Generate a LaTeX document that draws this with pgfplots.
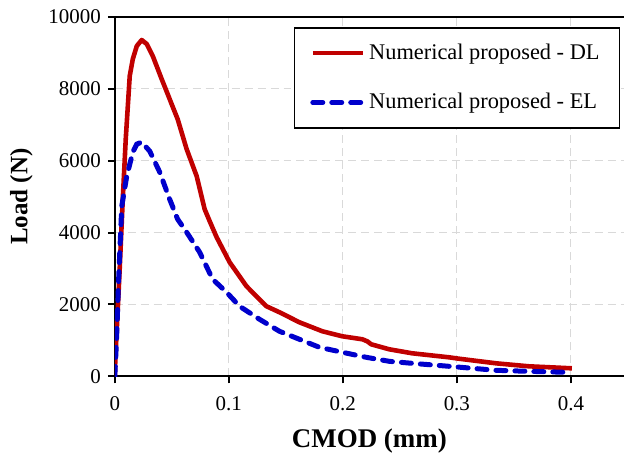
\documentclass[border=0pt]{standalone}
\usepackage{fontspec}
\setmainfont{Liberation Serif}
\usepackage{pgfplots}
\pgfplotsset{compat=1.18}
\definecolor{dlred}{RGB}{192,0,0}
\definecolor{elblue}{RGB}{0,0,204}
\definecolor{gridgray}{RGB}{217,217,217}
\begin{document}
\begin{tikzpicture}
\begin{axis}[
  scale only axis,
  width=255pt, height=180pt,
  xmin=0, xmax=0.4465, ymin=0, ymax=10000,
  axis x line=box, axis y line=left,
  axis line style={-, line width=1.1pt},
  scaled y ticks=false, scaled x ticks=false,
  xtick={0,0.1,0.2,0.3,0.4},
  xticklabels={0,0.1,0.2,0.3,0.4},
  ytick={0,2000,4000,6000,8000,10000},
  yticklabels={0,2000,4000,6000,8000,10000},
  xtick pos=bottom, ytick pos=left,
  tick align=outside,
  major tick length=3.5pt,
  every tick/.style={black, line width=1pt},
  /pgf/number format/assume math mode=true,
  tick label style={font=\fontsize{10.5}{12}\selectfont},
  xticklabel style={yshift=-3pt},
  grid=major,
  major grid style={gridgray, line width=0.5pt, dash pattern=on 4pt off 2.5pt},
  xlabel={\bfseries CMOD (mm)},
  ylabel={\bfseries Load (N)},
  xlabel style={font=\fontsize{13.5}{15}\selectfont, yshift=-2pt},
  ylabel style={font=\fontsize{12.5}{14}\selectfont, yshift=1pt},
  legend style={at={(0.993,0.972)}, anchor=north east, draw=black, line width=0.8pt,
    font=\fontsize{11.2}{13}\selectfont, inner xsep=8pt, inner ysep=6pt,
    row sep=11.5pt},
  legend cell align=left,
  legend image code/.code={\draw[#1] (0pt,0pt) -- (25pt,0pt);},
  clip=true,
]
\addplot[dlred, line width=2.3pt, line join=round] coordinates {
(0,0) (0.0005,500) (0.0025,1800) (0.0044,3064) (0.007,4930) (0.0096,6602)
(0.0131,8357) (0.0158,8830) (0.0193,9192) (0.0236,9359) (0.028,9248)
(0.0333,8914) (0.0411,8273) (0.0481,7716) (0.0551,7159) (0.063,6323)
(0.0718,5571) (0.0788,4652) (0.0832,4318) (0.0893,3872) (0.1007,3175)
(0.1155,2507) (0.133,1950) (0.1444,1783) (0.1619,1504) (0.1821,1253)
(0.1996,1114) (0.2171,1031) (0.2214,975) (0.2249,891) (0.2407,752)
(0.2608,641) (0.2932,529) (0.2993,501) (0.3344,362) (0.3632,279) (0.4009,223)
};
\addlegendentry{Numerical proposed - DL}
\addplot[elblue, line width=2.5pt, line cap=round, dash pattern=on 5pt off 4.5pt] coordinates {
(0,0) (0.0015,1000) (0.0035,2800) (0.0061,4735) (0.0105,5571) (0.0158,6240)
(0.0193,6462) (0.0236,6518) (0.0306,6267) (0.0394,5682) (0.0481,4930)
(0.0551,4373) (0.063,4011) (0.0744,3454) (0.0858,2702) (0.098,2340)
(0.1094,1950) (0.1269,1588) (0.1444,1254) (0.1619,1031) (0.1794,808)
(0.1996,669) (0.2206,529) (0.2407,418) (0.2608,362) (0.2932,279)
(0.3344,167) (0.3632,139) (0.3982,111)
};
\addlegendentry{Numerical proposed - EL}
\end{axis}
\path ([xshift=-57.5pt,yshift=-38pt]current axis.south west) rectangle ([yshift=8.5pt]current axis.north east);
\end{tikzpicture}
\end{document}
